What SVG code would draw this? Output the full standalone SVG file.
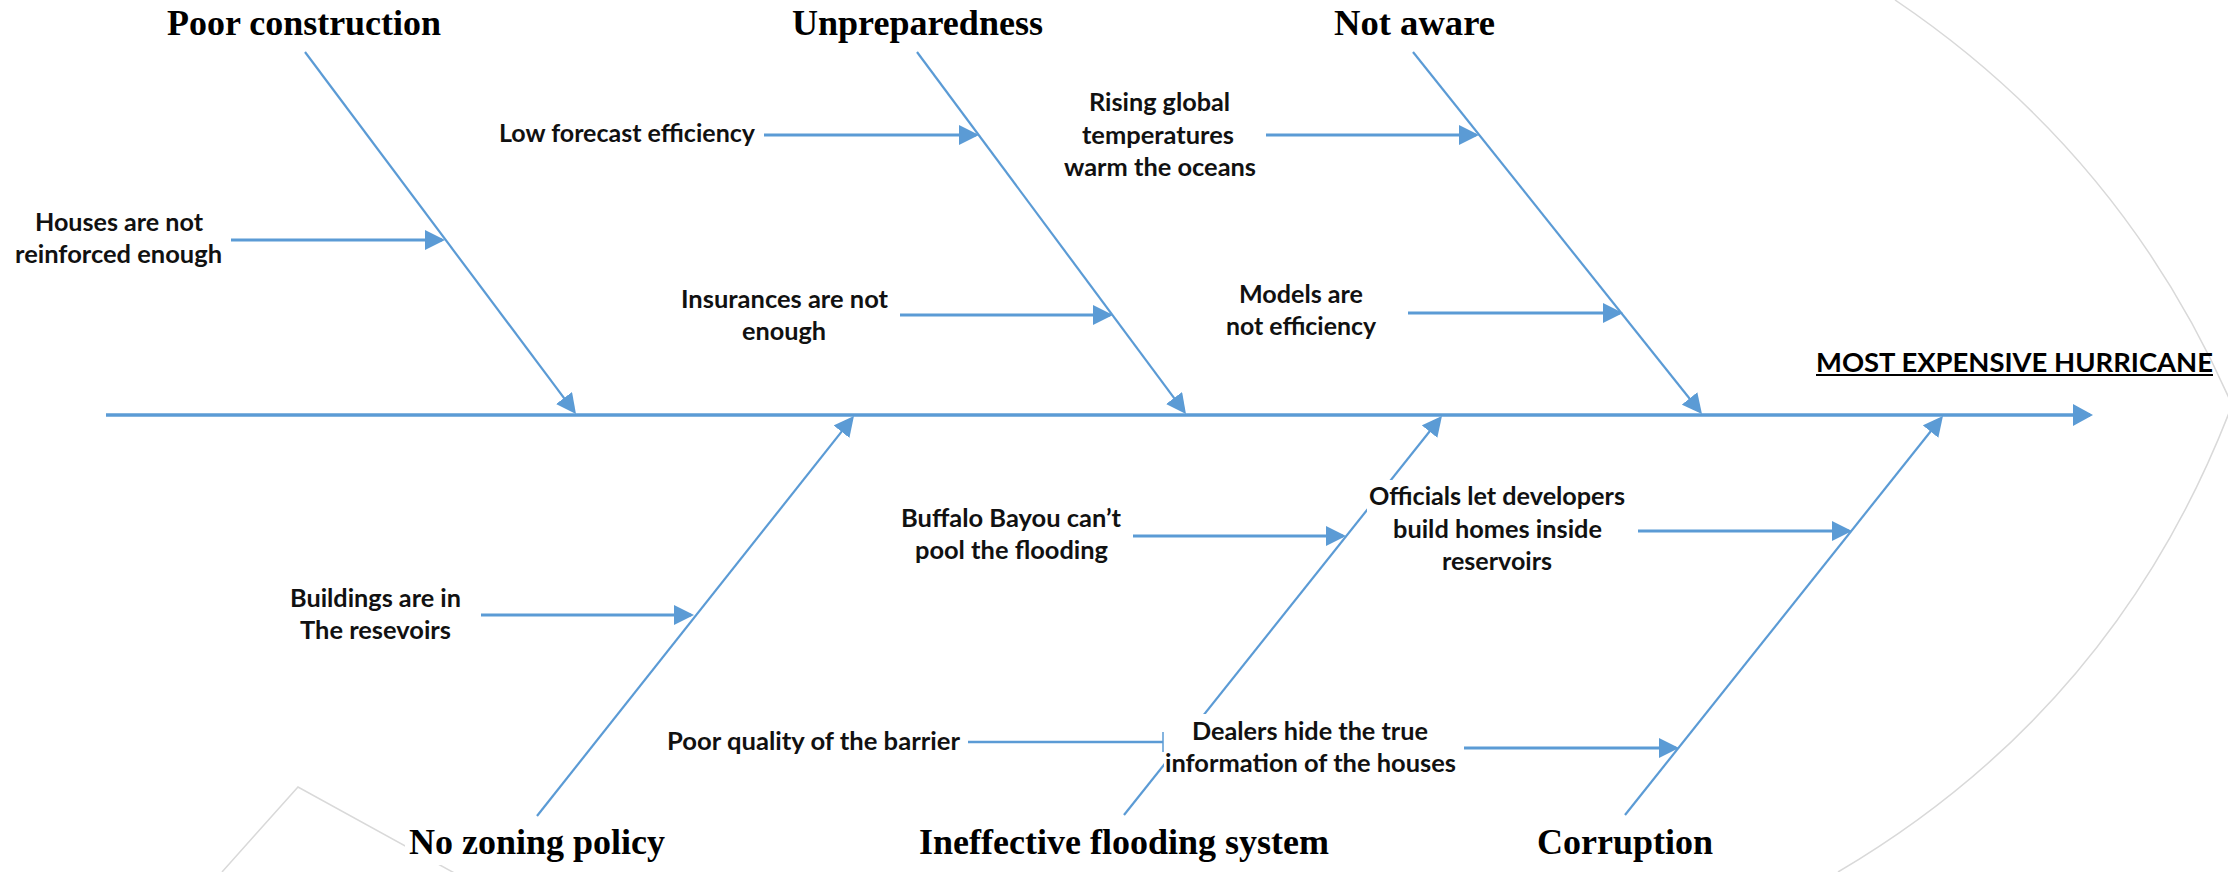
<svg xmlns="http://www.w3.org/2000/svg" width="2228" height="872" viewBox="0 0 2228 872">
  <style>
    .cause { font-family: "Liberation Serif", "Times New Roman", serif; font-weight: bold; font-size: 36px; fill: #000; }
    .note { font-family: Lato, "Open Sans", "Liberation Sans", sans-serif; font-weight: bold; font-size: 25px; fill: #111; }
    .effect { font-family: Lato, "Open Sans", "Liberation Sans", sans-serif; font-weight: bold; font-size: 27.5px; fill: #000; }
    .bone { stroke: #5B9BD5; stroke-width: 2.2; fill: none; }
    .rib { stroke: #5B9BD5; stroke-width: 3; fill: none; }
    .spine { stroke: #5B9BD5; stroke-width: 3.5; fill: none; }
    .outline { stroke: #d9d9d9; stroke-width: 1.5; fill: none; }
    .box { fill: #fff; stroke: none; }
  </style>
  <defs>
    <marker id="head" markerUnits="userSpaceOnUse" viewBox="0 0 20 20" markerWidth="20" markerHeight="20" refX="17" refY="10" orient="auto">
      <path d="M0,0 L20,10 L0,20 Z" fill="#5B9BD5"/>
    </marker>
    <marker id="head-spine" markerUnits="userSpaceOnUse" viewBox="0 0 20 22" markerWidth="20" markerHeight="22" refX="17" refY="11" orient="auto">
      <path d="M0,0 L20,11 L0,22 Z" fill="#5B9BD5"/>
    </marker>
  </defs>

  <rect width="2228" height="872" fill="#fff"/>

  <!-- fish outline: head and tail -->
  <g id="fish-outline">
    <path class="outline" d="M1895,0 Q2122.5,153.5 2232,405 Q2117,707.5 1838,872"/>
    <polyline class="outline" points="222,872 298,787 458,875"/>
  </g>

  <!-- connectors -->
  <g id="connectors">
    <line id="spine" class="spine" x1="106" y1="415" x2="2090" y2="415" marker-end="url(#head-spine)"/>

    <line class="bone" x1="305" y1="52" x2="574.2" y2="411.6" marker-end="url(#head)"/>
    <line class="bone" x1="917" y1="52" x2="1184.2" y2="411.6" marker-end="url(#head)"/>
    <line class="bone" x1="1413" y1="52" x2="1700.1" y2="411.7" marker-end="url(#head)"/>
    <line class="bone" x1="537" y1="816" x2="852.1" y2="418.4" marker-end="url(#head)"/>
    <line class="bone" x1="1124" y1="815" x2="1440.1" y2="418.3" marker-end="url(#head)"/>
    <line class="bone" x1="1625" y1="815" x2="1941.1" y2="418.3" marker-end="url(#head)"/>

    <line class="rib" x1="231" y1="240" x2="442" y2="240" marker-end="url(#head)"/>
    <line class="rib" x1="764" y1="135" x2="976" y2="135" marker-end="url(#head)"/>
    <line class="rib" x1="900" y1="315" x2="1110" y2="315" marker-end="url(#head)"/>
    <line class="rib" x1="1266" y1="135" x2="1476" y2="135" marker-end="url(#head)"/>
    <line class="rib" x1="1408" y1="313" x2="1620" y2="313" marker-end="url(#head)"/>
    <line class="rib" x1="481" y1="615" x2="691" y2="615" marker-end="url(#head)"/>
    <line class="rib" x1="1133" y1="536" x2="1343" y2="536" marker-end="url(#head)"/>
    <line class="rib" x1="1638" y1="531" x2="1849" y2="531" marker-end="url(#head)"/>
    <line class="rib" x1="1464" y1="748" x2="1676" y2="748" marker-end="url(#head)"/>
    <line class="rib" x1="968" y1="742" x2="1163" y2="742" style="stroke-width:2.5"/>
    <line class="rib" x1="1163" y1="732" x2="1163" y2="752" style="stroke-width:1.5"/>
  </g>

  <!-- main causes -->
  <g id="cause-poor-construction">
    <text class="cause" x="167" y="35" textLength="274" lengthAdjust="spacingAndGlyphs">Poor construction</text>
  </g>
  <g id="cause-unpreparedness">
    <text class="cause" x="792" y="35" textLength="251" lengthAdjust="spacingAndGlyphs">Unpreparedness</text>
  </g>
  <g id="cause-not-aware">
    <text class="cause" x="1334" y="35" textLength="161" lengthAdjust="spacingAndGlyphs">Not aware</text>
  </g>
  <g id="cause-no-zoning">
    <rect class="box" x="405" y="820" width="265" height="45"/>
    <text class="cause" x="409" y="854" textLength="256" lengthAdjust="spacingAndGlyphs">No zoning policy</text>
  </g>
  <g id="cause-flooding-system">
    <text class="cause" x="919" y="854" textLength="410" lengthAdjust="spacingAndGlyphs">Ineffective flooding system</text>
  </g>
  <g id="cause-corruption">
    <text class="cause" x="1537" y="854" textLength="176" lengthAdjust="spacingAndGlyphs">Corruption</text>
  </g>

  <!-- effect -->
  <g id="effect">
    <text class="effect" x="1816" y="372" textLength="397" lengthAdjust="spacingAndGlyphs">MOST EXPENSIVE HURRICANE</text>
    <line x1="1816" y1="375" x2="2213" y2="375" stroke="#000" stroke-width="2"/>
  </g>

  <!-- sub causes -->
  <g id="sub-houses">
    <text class="note" x="35" y="231" textLength="168" lengthAdjust="spacingAndGlyphs">Houses are not</text>
    <text class="note" x="15" y="263" textLength="207" lengthAdjust="spacingAndGlyphs">reinforced enough</text>
  </g>
  <g id="sub-forecast">
    <text class="note" x="499" y="142" textLength="256" lengthAdjust="spacingAndGlyphs">Low forecast efficiency</text>
  </g>
  <g id="sub-insurances">
    <text class="note" x="681" y="308" textLength="207" lengthAdjust="spacingAndGlyphs">Insurances are not</text>
    <text class="note" x="742" y="340" textLength="84" lengthAdjust="spacingAndGlyphs">enough</text>
  </g>
  <g id="sub-temperatures">
    <text class="note" x="1089" y="111" textLength="141" lengthAdjust="spacingAndGlyphs">Rising global</text>
    <text class="note" x="1082" y="143.5" textLength="152" lengthAdjust="spacingAndGlyphs">temperatures</text>
    <text class="note" x="1064" y="176" textLength="192" lengthAdjust="spacingAndGlyphs">warm the oceans</text>
  </g>
  <g id="sub-models">
    <text class="note" x="1239" y="303" textLength="124" lengthAdjust="spacingAndGlyphs">Models are</text>
    <text class="note" x="1226" y="335" textLength="150" lengthAdjust="spacingAndGlyphs">not efficiency</text>
  </g>
  <g id="sub-buildings">
    <text class="note" x="290" y="607" textLength="171" lengthAdjust="spacingAndGlyphs">Buildings are in</text>
    <text class="note" x="300" y="639" textLength="151" lengthAdjust="spacingAndGlyphs">The resevoirs</text>
  </g>
  <g id="sub-bayou">
    <text class="note" x="901" y="527" textLength="220" lengthAdjust="spacingAndGlyphs">Buffalo Bayou can’t</text>
    <text class="note" x="915" y="559" textLength="193" lengthAdjust="spacingAndGlyphs">pool the flooding</text>
  </g>
  <g id="sub-barrier">
    <text class="note" x="667" y="750" textLength="293" lengthAdjust="spacingAndGlyphs">Poor quality of the barrier</text>
  </g>
  <g id="sub-officials">
    <rect class="box" x="1367" y="480" width="263" height="102"/>
    <text class="note" x="1369" y="505" textLength="256" lengthAdjust="spacingAndGlyphs">Officials let developers</text>
    <text class="note" x="1393" y="538" textLength="209" lengthAdjust="spacingAndGlyphs">build homes inside</text>
    <text class="note" x="1442" y="570" textLength="110" lengthAdjust="spacingAndGlyphs">reservoirs</text>
  </g>
  <g id="sub-dealers">
    <rect class="box" x="1164" y="714" width="297" height="72"/>
    <text class="note" x="1192" y="740" textLength="236" lengthAdjust="spacingAndGlyphs">Dealers hide the true</text>
    <text class="note" x="1165" y="772" textLength="291" lengthAdjust="spacingAndGlyphs">information of the houses</text>
  </g>
</svg>
